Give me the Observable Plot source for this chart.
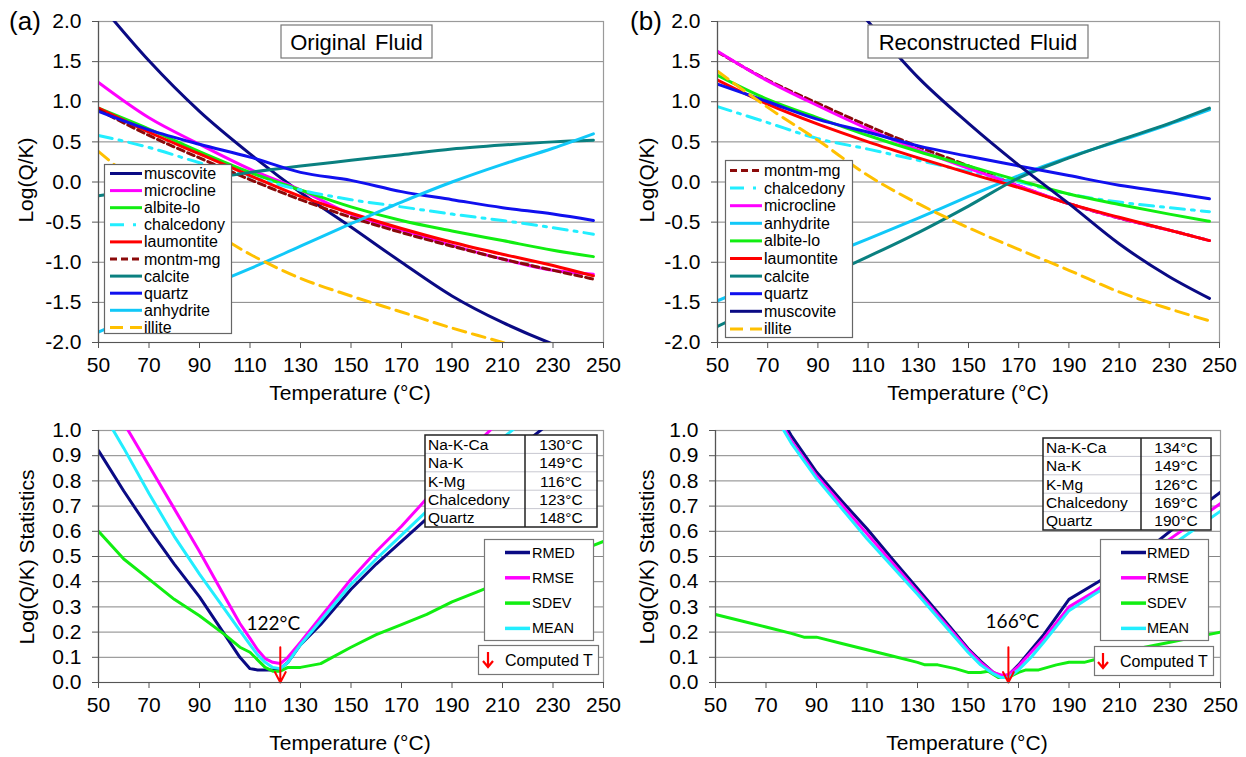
<!DOCTYPE html>
<html><head><meta charset="utf-8">
<script src="https://cdn.jsdelivr.net/npm/d3@7"></script>
<script src="https://cdn.jsdelivr.net/npm/@observablehq/plot@0.6"></script>
<style>
body{margin:0;background:#fff;}
#root{position:relative;width:1246px;height:757px;overflow:hidden;background:#fff;font-family:"Liberation Sans",Arial,sans-serif;}
.panel{position:absolute;}
.panel svg{overflow:visible;}
#overlay{position:absolute;left:0;top:0;}
</style></head>
<body><div id="root"></div>
<script>
// ---------- DATA ----------
const xTicks = [50,70,90,110,130,150,170,190,210,230,250];
const yTicksTop = [-2,-1.5,-1,-0.5,0,0.5,1,1.5,2];
const yTicksBottom = [0,0.1,0.2,0.3,0.4,0.5,0.6,0.7,0.8,0.9,1.0];

const tempsTop = [50,70,90,110,130,150,170,190,210,230,246];

// (a) Original Fluid
const muscoviteA  = [2.24,1.51,0.88,0.35,-0.13,-0.56,-1.0,-1.42,-1.75,-2.02,-2.2];
const microclineA = [1.24,0.8,0.47,0.16,-0.1,-0.4,-0.6,-0.79,-0.96,-1.1,-1.15];
const albiteA     = [0.92,0.66,0.38,0.12,-0.1,-0.31,-0.48,-0.61,-0.73,-0.85,-0.93];
const chalcedonyA = [0.58,0.43,0.24,0.07,-0.1,-0.22,-0.31,-0.4,-0.48,-0.57,-0.65];
const laumontiteA = [0.92,0.62,0.35,0.08,-0.18,-0.39,-0.58,-0.75,-0.9,-1.04,-1.17];
const montmA      = [0.9,0.58,0.3,0.03,-0.22,-0.44,-0.63,-0.8,-0.96,-1.1,-1.21];
const calciteA    = [-0.17,-0.08,0.02,0.12,0.2,0.27,0.34,0.41,0.46,0.5,0.52];
const quartzA     = [0.88,0.65,0.47,0.31,0.12,0.02,-0.12,-0.22,-0.32,-0.4,-0.48];
const anhydriteA  = [-1.87,-1.6,-1.34,-1.08,-0.8,-0.52,-0.25,0.0,0.22,0.42,0.6];
const illiteA     = [0.38,-0.12,-0.52,-0.9,-1.2,-1.42,-1.62,-1.82,-2.0,-2.2,-2.35];

// (b) Reconstructed Fluid
const muscoviteB  = [4.3,3.5,2.75,2.0,1.3,0.73,0.21,-0.27,-0.77,-1.18,-1.45];
const microclineB = [1.63,1.26,0.95,0.66,0.4,0.17,-0.05,-0.27,-0.45,-0.6,-0.73];
const montmB      = [1.62,1.27,0.98,0.7,0.44,0.2,-0.05,-0.27,-0.45,-0.6,-0.73];
const chalcedonyB = [0.94,0.74,0.54,0.41,0.27,0.13,0.0,-0.15,-0.25,-0.32,-0.37];
const anhydriteB  = [-1.48,-1.22,-0.96,-0.71,-0.45,-0.18,0.08,0.31,0.51,0.72,0.9];
const albiteB     = [1.33,1.03,0.8,0.58,0.38,0.2,0.02,-0.15,-0.28,-0.4,-0.49];
const laumontiteB = [1.27,0.97,0.72,0.5,0.3,0.11,-0.07,-0.27,-0.44,-0.6,-0.73];
const calciteB    = [-1.8,-1.5,-1.22,-0.93,-0.63,-0.3,0.05,0.3,0.52,0.73,0.92];
const quartzB     = [1.22,1.0,0.78,0.62,0.45,0.32,0.2,0.08,-0.04,-0.13,-0.21];
const illiteB     = [1.38,0.93,0.52,0.08,-0.27,-0.57,-0.84,-1.1,-1.37,-1.58,-1.73];

const legendOrderA = ["muscovite","microcline","albite-lo","chalcedony","laumontite","montm-mg","calcite","quartz","anhydrite","illite"];
const legendOrderB = ["montm-mg","chalcedony","microcline","anhydrite","albite-lo","laumontite","calcite","quartz","muscovite","illite"];

// statistics (c) original
const tempsStatA = [50,60,70,80,90,100,106,110,113,116,119,122,125,130,138,150,160,170,180,190,200,210,220,230,240,250];
const rmedA = [0.92,0.76,0.61,0.47,0.34,0.19,0.1,0.055,0.05,0.05,0.05,0.055,0.08,0.15,0.23,0.37,0.47,0.56,0.65,0.74,0.82,0.89,0.96,1.04,1.12,1.2];
const rmseA = [1.3,1.03,0.86,0.69,0.52,0.34,0.234,0.175,0.13,0.095,0.08,0.075,0.1,0.16,0.26,0.41,0.52,0.62,0.73,0.84,0.95,1.05,1.15,1.25,1.35,1.45];
const meanA = [1.1,0.93,0.75,0.58,0.43,0.29,0.206,0.15,0.11,0.08,0.06,0.055,0.08,0.15,0.245,0.39,0.49,0.585,0.68,0.79,0.89,0.97,1.05,1.13,1.21,1.29];
const sdevA = [0.6,0.49,0.41,0.33,0.265,0.19,0.14,0.12,0.09,0.06,0.045,0.045,0.06,0.06,0.075,0.14,0.19,0.23,0.27,0.32,0.36,0.4,0.44,0.48,0.52,0.56];

// statistics (d) reconstructed
const tempsStatB = [50,60,70,80,90,100,110,120,130,140,150,155,160,163,166,170,175,180,190,200,210,220,230,240,250];
const rmedB = [1.5,1.33,1.15,0.98,0.835,0.72,0.61,0.49,0.373,0.255,0.135,0.085,0.04,0.025,0.03,0.07,0.13,0.19,0.33,0.39,0.45,0.52,0.6,0.68,0.755];
const rmseB = [1.48,1.31,1.13,0.96,0.82,0.705,0.59,0.475,0.36,0.245,0.13,0.08,0.04,0.03,0.03,0.065,0.12,0.175,0.3,0.36,0.43,0.5,0.57,0.64,0.71];
const meanB = [1.46,1.29,1.12,0.95,0.81,0.69,0.57,0.46,0.35,0.235,0.12,0.07,0.035,0.02,0.02,0.05,0.1,0.16,0.285,0.35,0.41,0.48,0.54,0.61,0.68];
const tempsSdevB = [50,60,70,80,85,90,100,110,120,130,133,138,145,150,155,158,162,166,170,173,178,185,190,196,200,210,220,230,240,250];
const sdevB = [0.27,0.245,0.22,0.195,0.18,0.18,0.155,0.13,0.105,0.08,0.07,0.07,0.055,0.04,0.04,0.045,0.02,0.02,0.04,0.05,0.05,0.07,0.08,0.08,0.09,0.11,0.14,0.16,0.18,0.2];

const statNames = ["RMED","RMSE","SDEV","MEAN"];

const computedA = [{T:122, top:0.14, bottom:0, label:"122°C", labelY:0.234}];
const computedB = [{T:166, top:0.14, bottom:0, label:"166°C", labelY:0.24}];

const geoLabelsA = ["Na-K-Ca","Na-K","K-Mg","Chalcedony","Quartz"];
const geoValuesA = ["130°C","149°C","116°C","123°C","148°C"];
const geoLabelsB = ["Na-K-Ca","Na-K","K-Mg","Chalcedony","Quartz"];
const geoValuesB = ["134°C","149°C","126°C","169°C","190°C"];

// ---------- STYLES ----------
const mineralStyle = {
  "muscovite":  {color:"#0a0a84", dash:null},
  "microcline": {color:"#ff00ff", dash:null},
  "albite-lo":  {color:"#11ee11", dash:null},
  "chalcedony": {color:"#22eeff", dash:"14,7,3,7"},
  "laumontite": {color:"#ff0000", dash:null},
  "montm-mg":   {color:"#8b0a0a", dash:"7,4"},
  "calcite":    {color:"#0a8080", dash:null},
  "quartz":     {color:"#1010ee", dash:null},
  "anhydrite":  {color:"#11c8f8", dash:null},
  "illite":     {color:"#ffc000", dash:"13,7"}
};
const statStyle = {RMED:"#0a0a84", RMSE:"#ff00ff", SDEV:"#11ee11", MEAN:"#22eeff"};

const seriesA = {"muscovite":muscoviteA,"microcline":microclineA,"albite-lo":albiteA,"chalcedony":chalcedonyA,"laumontite":laumontiteA,"montm-mg":montmA,"calcite":calciteA,"quartz":quartzA,"anhydrite":anhydriteA,"illite":illiteA};
const seriesB = {"muscovite":muscoviteB,"microcline":microclineB,"albite-lo":albiteB,"chalcedony":chalcedonyB,"laumontite":laumontiteB,"montm-mg":montmB,"calcite":calciteB,"quartz":quartzB,"anhydrite":anhydriteB,"illite":illiteB};

const FONT = '"Liberation Sans", Arial, sans-serif';
const root = document.getElementById("root");

function makePlot(cfg) {
  const marks = [
    Plot.ruleY(cfg.yTicks, {stroke:"#868686", strokeWidth:1}),
    Plot.frame({stroke:"#9a9a9a", strokeWidth:1.2})
  ];
  for (const s of cfg.lines) {
    const data = s.T.map((t,i)=>({T:t, v:s.v[i]}));
    marks.push(Plot.line(data, {x:"T", y:"v", stroke:s.color, strokeWidth:3, strokeDasharray:s.dash || undefined, curve:cfg.curve, clip:true}));
  }
  if (cfg.extra) marks.push(...cfg.extra);
  marks.push(
    Plot.ruleX([50], {stroke:"#555", strokeWidth:1.2}),
    Plot.ruleY([cfg.yDomain[0]], {stroke:"#555", strokeWidth:1.2}),
    Plot.axisX({ticks:xTicks, tickSize:6, tickPadding:9, tickFormat:d=>String(d), label:null, fontSize:21, stroke:"#555"}),
    Plot.axisY({ticks:cfg.yTicks, tickSize:6, tickPadding:11, tickFormat:d=>d.toFixed(1), label:null, fontSize:21, stroke:"#555"})
  );
  const svg = Plot.plot({
    width:cfg.width, height:cfg.height,
    marginLeft:cfg.mL, marginRight:cfg.mR, marginTop:cfg.mT, marginBottom:cfg.mB,
    x:{domain:[50,250]}, y:{domain:cfg.yDomain},
    style:{background:"none", fontFamily:FONT, fontSize:"21px", color:"#000"},
    marks
  });
  const div = document.createElement("div");
  div.className = "panel";
  div.style.left = cfg.left + "px"; div.style.top = cfg.top + "px";
  div.appendChild(svg);
  root.appendChild(div);
}

function mineralLines(order, series) {
  return order.map(n => ({T:tempsTop, v:series[n], color:mineralStyle[n].color, dash:mineralStyle[n].dash}));
}

makePlot({left:0, top:0, width:620, height:400, mL:98, mR:17, mT:21, mB:58,
  yDomain:[-2,2], yTicks:yTicksTop, curve:"monotone-x", lines:mineralLines(legendOrderA, seriesA)});
makePlot({left:620, top:0, width:626, height:400, mL:97, mR:27, mT:21, mB:58,
  yDomain:[-2,2], yTicks:yTicksTop, curve:"monotone-x", lines:mineralLines(legendOrderB, seriesB)});

function arrowMarks(comp, dx) {
  return [
    Plot.arrow(comp, {x:"T", y1:"top", y2:"bottom", stroke:"#ff0000", strokeWidth:2, headLength:11, headAngle:55}),
    Plot.text(comp, {x:"T", y:"labelY", text:"label", dx:dx, fontSize:19, fontFamily:"Lato, sans-serif", fill:"#000"})
  ];
}

makePlot({left:0, top:400, width:620, height:357, mL:98, mR:17, mT:30, mB:75,
  yDomain:[0,1], yTicks:yTicksBottom, curve:"linear",
  lines:[
    {T:tempsStatA, v:rmedA, color:statStyle.RMED},
    {T:tempsStatA, v:rmseA, color:statStyle.RMSE},
    {T:tempsStatA, v:sdevA, color:statStyle.SDEV},
    {T:tempsStatA, v:meanA, color:statStyle.MEAN}
  ],
  extra: arrowMarks(computedA, -7)});
makePlot({left:620, top:400, width:626, height:357, mL:95, mR:26, mT:30, mB:75,
  yDomain:[0,1], yTicks:yTicksBottom, curve:"linear",
  lines:[
    {T:tempsStatB, v:rmedB, color:statStyle.RMED},
    {T:tempsStatB, v:rmseB, color:statStyle.RMSE},
    {T:tempsSdevB, v:sdevB, color:statStyle.SDEV},
    {T:tempsStatB, v:meanB, color:statStyle.MEAN}
  ],
  extra: arrowMarks(computedB, 4)});

// ---------- OVERLAY (titles, legends, tables) ----------
const ov = d3.select(root).append("svg").attr("id","overlay")
  .attr("width",1246).attr("height",757).style("font-family",FONT);

function txt(x, y, s, size, opts={}) {
  const t = ov.append("text").attr("x",x).attr("y",y).attr("font-size",size)
    .attr("dominant-baseline","central").attr("text-anchor",opts.anchor||"start").text(s);
  if (opts.rotate) t.attr("transform",`rotate(-90,${x},${y})`);
  if (opts.family) t.attr("font-family",opts.family);
  return t;
}
// panel letters
txt(25, 21, "(a)", 26, {anchor:"middle"});
txt(646, 21, "(b)", 26, {anchor:"middle"});
// axis titles
txt(350, 392, "Temperature (°C)", 21, {anchor:"middle"});
txt(968, 392, "Temperature (°C)", 21, {anchor:"middle"});
txt(350, 742, "Temperature (°C)", 21, {anchor:"middle"});
txt(967, 742, "Temperature (°C)", 21, {anchor:"middle"});
txt(25, 180, "Log(Q/K)", 21, {anchor:"middle", rotate:true});
txt(646, 180, "Log(Q/K)", 21, {anchor:"middle", rotate:true});
txt(26, 557, "Log(Q/K) Statistics", 21, {anchor:"middle", rotate:true});
txt(646, 557, "Log(Q/K) Statistics", 21, {anchor:"middle", rotate:true});

// title boxes
function titleBox(x, y, w, h, s) {
  ov.append("rect").attr("x",x).attr("y",y).attr("width",w).attr("height",h)
    .attr("fill","#fff").attr("stroke","#777").attr("stroke-width",1.2);
  txt(x + w/2, y + h/2 + 1, s, 22, {anchor:"middle"}).attr("word-spacing","3px");
}
titleBox(281, 25, 151, 33, "Original Fluid");
titleBox(868, 25, 220, 33, "Reconstructed Fluid");

// mineral legends
function mineralLegend(order, box, y0, step, sx0, sx1, tx) {
  ov.append("rect").attr("x",box[0]).attr("y",box[1]).attr("width",box[2]).attr("height",box[3])
    .attr("fill","#fff").attr("stroke","#666").attr("stroke-width",1.2);
  order.forEach((n,i) => {
    const y = y0 + step*i;
    const st = mineralStyle[n];
    const l = ov.append("line").attr("x1",sx0).attr("x2",sx1).attr("y1",y).attr("y2",y)
      .attr("stroke",st.color).attr("stroke-width",3);
    if (st.dash) l.attr("stroke-dasharray", n==="chalcedony" ? "14,9,3,7" : st.dash);
    txt(tx, y, n, 16);
  });
}
mineralLegend(legendOrderA, [104.5,164.5,127,169], 173.5, 17.1, 110, 142, 144);
mineralLegend(legendOrderB, [725.5,160.5,127,177], 170.5, 17.6, 730, 762, 764);

// stats legends
function statLegend(box, y0, step, sx0, sx1, tx) {
  ov.append("rect").attr("x",box[0]).attr("y",box[1]).attr("width",box[2]).attr("height",box[3])
    .attr("fill","#fff").attr("stroke","#777").attr("stroke-width",1.2);
  statNames.forEach((n,i) => {
    const y = y0 + step*i;
    ov.append("line").attr("x1",sx0).attr("x2",sx1).attr("y1",y).attr("y2",y)
      .attr("stroke",statStyle[n]).attr("stroke-width",3.5);
    txt(tx, y, n, 14.5);
  });
}
statLegend([484.5,539.5,109,101], 552.5, 25.3, 505, 530, 532);
statLegend([1100.5,539.5,108,101], 552.5, 25.3, 1121, 1146, 1147);

// computed T boxes
function computedBox(box, ax, ty, tx) {
  ov.append("rect").attr("x",box[0]).attr("y",box[1]).attr("width",box[2]).attr("height",box[3])
    .attr("fill","#fff").attr("stroke","#777").attr("stroke-width",1.2);
  ov.append("path").attr("d",`M${ax},${ty-8}V${ty+7}M${ax-5},${ty+1}L${ax},${ty+7}L${ax+5},${ty+1}`)
    .attr("fill","none").attr("stroke","#ff0000").attr("stroke-width",2.2);
  txt(tx, ty, "Computed T", 16);
}
computedBox([478.5,645.5,120,29], 488, 660, 505);
computedBox([1094.5,646.5,119,29], 1103, 661, 1120);

// geothermometer tables
function geoTable(x, y, w, h, divX, labels, values) {
  const rh = h / labels.length;
  ov.append("rect").attr("x",x).attr("y",y).attr("width",w).attr("height",h).attr("fill","#fff");
  for (let i=1;i<labels.length;i++) {
    ov.append("line").attr("x1",x).attr("x2",x+w).attr("y1",y+rh*i).attr("y2",y+rh*i)
      .attr("stroke","#c8c8d0").attr("stroke-width",1);
  }
  labels.forEach((s,i)=>{
    txt(x+3, y+rh*i+rh/2, s, 15.5);
    txt((divX + x + w)/2, y+rh*i+rh/2, values[i], 15.5, {anchor:"middle"});
  });
  ov.append("line").attr("x1",divX).attr("x2",divX).attr("y1",y).attr("y2",y+h).attr("stroke","#222").attr("stroke-width",1.5);
  ov.append("rect").attr("x",x).attr("y",y).attr("width",w).attr("height",h)
    .attr("fill","none").attr("stroke","#222").attr("stroke-width",1.5);
}
geoTable(425, 435, 172, 92, 525, geoLabelsA, geoValuesA);
geoTable(1043, 438, 168, 92, 1141, geoLabelsB, geoValuesB);
</script>
</body></html>
